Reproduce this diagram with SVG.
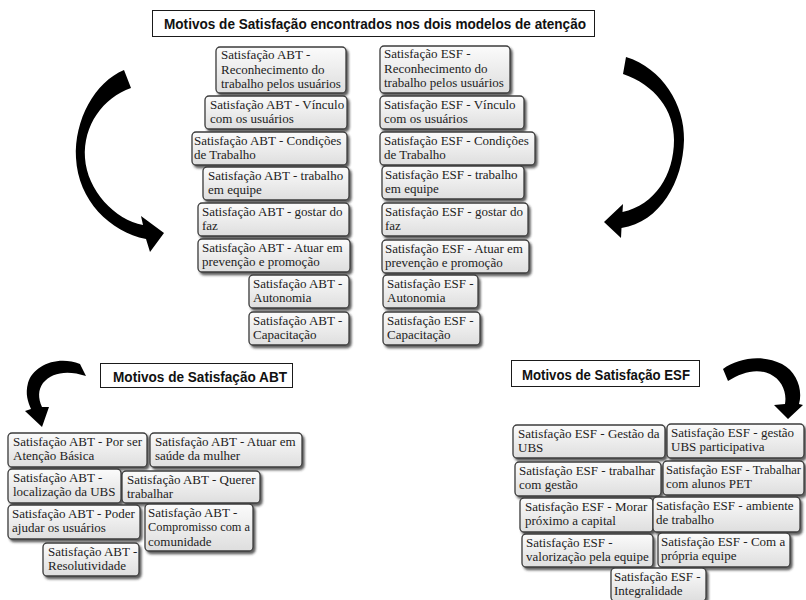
<svg xmlns="http://www.w3.org/2000/svg" width="806" height="600" viewBox="0 0 806 600">
<defs>
<linearGradient id="gf" x1="0" y1="0" x2="0" y2="1">
<stop offset="0" stop-color="#fbfbfb"/>
<stop offset="1" stop-color="#dedede"/>
</linearGradient>
<filter id="sh" x="-10%" y="-10%" width="125%" height="140%">
<feDropShadow dx="2" dy="2.5" stdDeviation="1.2" flood-color="#2a2a2a" flood-opacity="0.75"/>
</filter>
<style>
.b{fill:url(#gf);stroke:#3c3c3c;stroke-width:1.3;filter:url(#sh)}
.t{font-family:"Liberation Serif","Times New Roman",serif;font-size:13px;fill:#222}
.hb{fill:#fff;stroke:#1a1a1a;stroke-width:1}
.h{font-family:"Liberation Sans",Arial,sans-serif;font-weight:bold;font-size:15px;fill:#111}
.ar{fill:#000}
</style>
</defs>
<rect width="806" height="600" fill="#fff"/>

<g id="connectors">
<path class="ar" d="M124,70 C95,82 74,120 76,158 C78,200 110,232 146,239 L150,252 L164,233 L141,216 L143,225 C115,220 87,190 85,158 C83,125 103,98 131,88 Z"/>
<path class="ar" d="M626,57 C662,68 685,105 684,140 C683,182 660,222 621.5,228 L621,238 L604,222 L623,204 L622.5,212 C655,205 674,175 674,140 C674,110 655,85 623,74 Z"/>
<path class="ar" d="M80,364 C58,355 33,365 28,383 C25,394 28,402 31,409 L25,411 L42,427 L49,407 L42,407 C38,398 38,390 43,383 C52,372 68,370 86,376 Z"/>
<path class="ar" d="M723,369 C738,358 762,354 782,364 C797,372 803,390 799,404 L803,405 L788,419 L774,405 L785,404 C787,392 782,380 770,374 C757,368 742,372 728,381 Z"/>
</g>

<g id="title-main">
<rect class="hb" x="152.5" y="10.5" width="442" height="26"/>
<text class="h" x="164" y="29" textLength="422" lengthAdjust="spacingAndGlyphs">Motivos de Satisfação encontrados nos dois modelos de atenção</text>
</g>

<g id="abt-1"><rect class="b" x="216" y="47" width="130" height="46" rx="4"/>
<text class="t" x="221" y="59">Satisfação ABT -</text><text class="t" x="221" y="73.5">Reconhecimento do</text><text class="t" x="221" y="88">trabalho pelos usuários</text></g>
<g id="abt-2"><rect class="b" x="205" y="96" width="142" height="33" rx="4"/>
<text class="t" x="210" y="108.5">Satisfação ABT - Vínculo</text><text class="t" x="210" y="122.5">com os usuários</text></g>
<g id="abt-3"><rect class="b" x="192" y="132" width="155" height="33" rx="4"/>
<text class="t" x="194" y="144.5">Satisfação ABT - Condições</text><text class="t" x="194" y="158.5">de Trabalho</text></g>
<g id="abt-4"><rect class="b" x="203" y="167" width="146" height="33" rx="4"/>
<text class="t" x="208" y="179.5">Satisfação ABT - trabalho</text><text class="t" x="208" y="193.5">em equipe</text></g>
<g id="abt-5"><rect class="b" x="198" y="203" width="151" height="33" rx="4"/>
<text class="t" x="202" y="215.5">Satisfação ABT - gostar do</text><text class="t" x="202" y="229.5">faz</text></g>
<g id="abt-6"><rect class="b" x="198" y="239" width="152" height="33" rx="4"/>
<text class="t" x="202" y="251.5">Satisfação ABT - Atuar em</text><text class="t" x="202" y="265.5">prevenção e promoção</text></g>
<g id="abt-7"><rect class="b" x="249" y="275" width="100" height="33" rx="4"/>
<text class="t" x="253" y="287.5">Satisfação ABT -</text><text class="t" x="253" y="301.5">Autonomia</text></g>
<g id="abt-8"><rect class="b" x="249" y="312" width="100" height="33" rx="4"/>
<text class="t" x="253" y="324.5">Satisfação ABT -</text><text class="t" x="253" y="338.5">Capacitação</text></g>

<g id="esf-1"><rect class="b" x="380" y="46" width="130" height="47" rx="4"/>
<text class="t" x="384" y="58">Satisfação ESF -</text><text class="t" x="384" y="72.5">Reconhecimento do</text><text class="t" x="384" y="87">trabalho pelos usuários</text></g>
<g id="esf-2"><rect class="b" x="380" y="96" width="144" height="33" rx="4"/>
<text class="t" x="384" y="108.5">Satisfação ESF - Vínculo</text><text class="t" x="384" y="122.5">com os usuários</text></g>
<g id="esf-3"><rect class="b" x="380" y="132" width="155" height="33" rx="4"/>
<text class="t" x="384" y="144.5">Satisfação ESF - Condições</text><text class="t" x="384" y="158.5">de Trabalho</text></g>
<g id="esf-4"><rect class="b" x="382" y="166" width="142" height="33" rx="4"/>
<text class="t" x="385" y="178.5">Satisfação ESF - trabalho</text><text class="t" x="385" y="192.5">em equipe</text></g>
<g id="esf-5"><rect class="b" x="382" y="203" width="146" height="33" rx="4"/>
<text class="t" x="385" y="215.5">Satisfação ESF - gostar do</text><text class="t" x="385" y="229.5">faz</text></g>
<g id="esf-6"><rect class="b" x="382" y="240" width="147" height="33" rx="4"/>
<text class="t" x="385" y="252.5">Satisfação ESF - Atuar em</text><text class="t" x="385" y="266.5">prevenção e promoção</text></g>
<g id="esf-7"><rect class="b" x="383" y="275" width="95" height="33" rx="4"/>
<text class="t" x="387" y="287.5">Satisfação ESF -</text><text class="t" x="387" y="301.5">Autonomia</text></g>
<g id="esf-8"><rect class="b" x="383" y="312" width="97" height="33" rx="4"/>
<text class="t" x="387" y="324.5">Satisfação ESF -</text><text class="t" x="387" y="338.5">Capacitação</text></g>

<g id="title-abt">
<rect class="hb" x="100.5" y="363.5" width="192" height="24"/>
<text class="h" x="113" y="382" textLength="174" lengthAdjust="spacingAndGlyphs">Motivos de Satisfação ABT</text>
</g>
<g id="title-esf">
<rect class="hb" x="511.5" y="360.5" width="188" height="26"/>
<text class="h" x="522" y="380" textLength="168" lengthAdjust="spacingAndGlyphs">Motivos de Satisfação ESF</text>
</g>

<g id="abt-b1"><rect class="b" x="8" y="433" width="139" height="34" rx="4"/>
<text class="t" x="13" y="446">Satisfação ABT - Por ser</text><text class="t" x="13" y="460">Atenção Básica</text></g>
<g id="abt-b2"><rect class="b" x="150" y="433" width="152" height="34" rx="4"/>
<text class="t" x="155" y="446">Satisfação ABT - Atuar em</text><text class="t" x="155" y="460">saúde da mulher</text></g>
<g id="abt-b3"><rect class="b" x="8" y="469" width="113" height="34" rx="4"/>
<text class="t" x="13" y="482">Satisfação ABT -</text><text class="t" x="13" y="496">localização da UBS</text></g>
<g id="abt-b4"><rect class="b" x="122" y="471" width="138" height="32" rx="4"/>
<text class="t" x="127" y="483.5">Satisfação ABT - Querer</text><text class="t" x="127" y="497.5">trabalhar</text></g>
<g id="abt-b5"><rect class="b" x="8" y="505" width="132" height="34" rx="4"/>
<text class="t" x="12" y="518">Satisfação ABT - Poder</text><text class="t" x="12" y="532">ajudar os usuários</text></g>
<g id="abt-b6"><rect class="b" x="145" y="504" width="108" height="47" rx="4"/>
<text class="t" x="148" y="516.5">Satisfação ABT -</text><text class="t" x="148" y="531" textLength="102" lengthAdjust="spacingAndGlyphs">Compromisso com a</text><text class="t" x="148" y="545.5">comunidade</text></g>
<g id="abt-b7"><rect class="b" x="43" y="543" width="96" height="33" rx="4"/>
<text class="t" x="48" y="555.5">Satisfação ABT -</text><text class="t" x="48" y="569.5">Resolutividade</text></g>

<g id="esf-b1"><rect class="b" x="513" y="425" width="152" height="33" rx="4"/>
<text class="t" x="518" y="437.5">Satisfação ESF - Gestão da</text><text class="t" x="518" y="451.5">UBS</text></g>
<g id="esf-b2"><rect class="b" x="667" y="424" width="137" height="34" rx="4"/>
<text class="t" x="671" y="437">Satisfação ESF - gestão</text><text class="t" x="671" y="451">UBS participativa</text></g>
<g id="esf-b3"><rect class="b" x="515" y="462" width="146" height="34" rx="4"/>
<text class="t" x="519" y="475">Satisfação ESF - trabalhar</text><text class="t" x="519" y="489">com gestão</text></g>
<g id="esf-b4"><rect class="b" x="663" y="461" width="141" height="34" rx="4"/>
<text class="t" x="666" y="474" textLength="135" lengthAdjust="spacingAndGlyphs">Satisfação ESF - Trabalhar</text><text class="t" x="666" y="488">com alunos PET</text></g>
<g id="esf-b5"><rect class="b" x="520" y="498" width="133" height="34" rx="4"/>
<text class="t" x="525" y="511">Satisfação ESF - Morar</text><text class="t" x="525" y="525">próximo a capital</text></g>
<g id="esf-b6"><rect class="b" x="653" y="497" width="147" height="35" rx="4"/>
<text class="t" x="656" y="510">Satisfação ESF - ambiente</text><text class="t" x="656" y="524">de trabalho</text></g>
<g id="esf-b7"><rect class="b" x="522" y="534" width="131" height="33" rx="4"/>
<text class="t" x="526" y="546.5">Satisfação ESF -</text><text class="t" x="526" y="560.5">valorização pela equipe</text></g>
<g id="esf-b8"><rect class="b" x="658" y="533" width="132" height="34" rx="4"/>
<text class="t" x="661" y="546">Satisfação ESF - Com a</text><text class="t" x="661" y="560">própria equipe</text></g>
<g id="esf-b9"><rect class="b" x="611" y="568" width="95" height="33" rx="4"/>
<text class="t" x="614" y="580.5">Satisfação ESF -</text><text class="t" x="614" y="594.5">Integralidade</text></g>
</svg>
